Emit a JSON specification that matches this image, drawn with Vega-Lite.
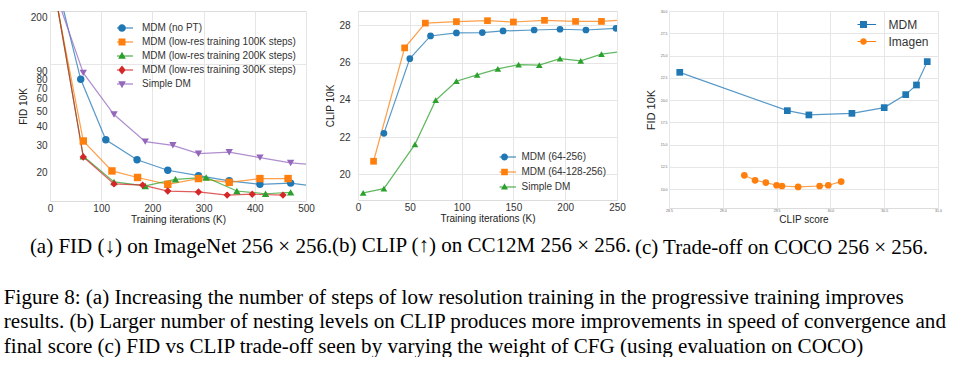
{
  "$schema": "https://vega.github.io/schema/vega-lite/v6.json",
  "padding": {"left": 3, "top": 8, "right": 0, "bottom": 0},
  "background": "white",
  "bounds": "flush",
  "spacing": 52,
  "resolve": {"scale": {"color": "independent", "shape": "independent"}, "legend": {"color": "independent", "shape": "independent"}},
  "config": {
    "font": "Liberation Sans",
    "view": {"stroke": "#dcdcdc", "strokeWidth": 1},
    "axis": {"ticks": false, "domain": false, "gridColor": "#e6e6e6", "gridWidth": 1, "labelColor": "#333333", "titleColor": "#222222", "labelFontSize": 10, "titleFontSize": 10, "titleFontWeight": "normal", "labelFont": "Liberation Sans", "titleFont": "Liberation Sans", "labelFlush": false, "labelOverlap": false},
    "legend": {"labelFont": "Liberation Sans", "labelColor": "#333333", "padding": 0, "symbolOpacity": 1, "symbolStrokeWidth": 0}
  },
  "title": {
    "text": ["Figure 8:  (a) Increasing the number of steps of low resolution training in the progressive training improves", "results. (b) Larger number of nesting levels on CLIP produces more improvements in speed of convergence and", "final score (c) FID vs CLIP trade-off seen by varying the weight of CFG (using evaluation on COCO)"],
    "orient": "bottom", "anchor": "start", "frame": "bounds", "font": "Liberation Serif", "fontSize": 21.1, "fontWeight": "normal", "lineHeight": 24.3, "color": "#000000", "offset": 29, "dx": -14
  },
  "hconcat": [
    {
      "width": 256, "height": 190,
      "title": {"text": "(a) FID (↓) on ImageNet 256 × 256.", "orient": "bottom", "anchor": "middle", "frame": "group", "font": "Liberation Serif", "fontSize": 21, "fontWeight": "normal", "color": "#000000", "offset": 12, "dx": 3},
      "data": {"values": [
        {"series": "MDM (no PT)", "iter": 5, "fid": 430}, {"series": "MDM (no PT)", "iter": 60, "fid": 80}, {"series": "MDM (no PT)", "iter": 109, "fid": 32.7}, {"series": "MDM (no PT)", "iter": 170, "fid": 24.3}, {"series": "MDM (no PT)", "iter": 230, "fid": 20.8}, {"series": "MDM (no PT)", "iter": 290, "fid": 19.2}, {"series": "MDM (no PT)", "iter": 350, "fid": 17.8}, {"series": "MDM (no PT)", "iter": 410, "fid": 16.9}, {"series": "MDM (no PT)", "iter": 470, "fid": 17.2}, {"series": "MDM (no PT)", "iter": 530, "fid": 16.2},
        {"series": "MDM (low-res training 100K steps)", "iter": 5, "fid": 338}, {"series": "MDM (low-res training 100K steps)", "iter": 65, "fid": 32.1}, {"series": "MDM (low-res training 100K steps)", "iter": 121, "fid": 20.6}, {"series": "MDM (low-res training 100K steps)", "iter": 171, "fid": 18.7}, {"series": "MDM (low-res training 100K steps)", "iter": 230, "fid": 16.9}, {"series": "MDM (low-res training 100K steps)", "iter": 290, "fid": 18.4}, {"series": "MDM (low-res training 100K steps)", "iter": 350, "fid": 17.4}, {"series": "MDM (low-res training 100K steps)", "iter": 410, "fid": 18.4}, {"series": "MDM (low-res training 100K steps)", "iter": 465, "fid": 18.4},
        {"series": "MDM (low-res training 200K steps)", "iter": 5, "fid": 359}, {"series": "MDM (low-res training 200K steps)", "iter": 65, "fid": 25.6}, {"series": "MDM (low-res training 200K steps)", "iter": 125, "fid": 17.5}, {"series": "MDM (low-res training 200K steps)", "iter": 186, "fid": 16.5}, {"series": "MDM (low-res training 200K steps)", "iter": 245, "fid": 18.2}, {"series": "MDM (low-res training 200K steps)", "iter": 305, "fid": 18.7}, {"series": "MDM (low-res training 200K steps)", "iter": 365, "fid": 15.3}, {"series": "MDM (low-res training 200K steps)", "iter": 421, "fid": 14.7}, {"series": "MDM (low-res training 200K steps)", "iter": 470, "fid": 15.0},
        {"series": "MDM (low-res training 300K steps)", "iter": 5, "fid": 359}, {"series": "MDM (low-res training 300K steps)", "iter": 65, "fid": 25.3}, {"series": "MDM (low-res training 300K steps)", "iter": 125, "fid": 17.0}, {"series": "MDM (low-res training 300K steps)", "iter": 181, "fid": 16.7}, {"series": "MDM (low-res training 300K steps)", "iter": 230, "fid": 15.3}, {"series": "MDM (low-res training 300K steps)", "iter": 290, "fid": 15.1}, {"series": "MDM (low-res training 300K steps)", "iter": 346, "fid": 14.4}, {"series": "MDM (low-res training 300K steps)", "iter": 395, "fid": 14.6}, {"series": "MDM (low-res training 300K steps)", "iter": 455, "fid": 14.4},
        {"series": "Simple DM", "iter": 5, "fid": 325}, {"series": "Simple DM", "iter": 65, "fid": 88}, {"series": "Simple DM", "iter": 125, "fid": 47.5}, {"series": "Simple DM", "iter": 186, "fid": 31.8}, {"series": "Simple DM", "iter": 240, "fid": 30.1}, {"series": "Simple DM", "iter": 290, "fid": 26.6}, {"series": "Simple DM", "iter": 350, "fid": 27.2}, {"series": "Simple DM", "iter": 410, "fid": 25.1}, {"series": "Simple DM", "iter": 470, "fid": 23.2}, {"series": "Simple DM", "iter": 530, "fid": 22.4}
      ]},
      "encoding": {
        "x": {"field": "iter", "type": "quantitative", "scale": {"domain": [0, 500], "nice": false, "zero": false}, "axis": {"values": [0, 100, 200, 300, 400, 500], "title": "Training iterations (K)", "labelPadding": 2, "titlePadding": 1}},
        "y": {"field": "fid", "type": "quantitative", "scale": {"type": "log", "domain": [13.2, 220], "nice": false}, "axis": {"values": [20, 30, 40, 50, 60, 70, 80, 90, 100, 200], "labelExpr": "datum.value == 100 ? '' : datum.label", "gridOpacity": {"condition": {"test": "datum.value == 100", "value": 1}, "value": 0}, "title": "FID 10K", "labelPadding": 3, "titlePadding": 2}}
      },
      "layer": [
        {"mark": {"type": "line", "clip": true, "strokeWidth": 1.2, "opacity": 0.75},
         "encoding": {"color": {"field": "series", "type": "nominal", "scale": {"domain": ["MDM (no PT)", "MDM (low-res training 100K steps)", "MDM (low-res training 200K steps)", "MDM (low-res training 300K steps)", "Simple DM"], "range": ["#1f77b4", "#ff7f0e", "#2ca02c", "#d62728", "#9467bd"]}, "legend": null}}},
        {"mark": {"type": "point", "filled": true, "clip": true, "size": 55, "opacity": 1},
         "encoding": {"color": {"field": "series", "type": "nominal", "scale": {"domain": ["MDM (no PT)", "MDM (low-res training 100K steps)", "MDM (low-res training 200K steps)", "MDM (low-res training 300K steps)", "Simple DM"], "range": ["#1f77b4", "#ff7f0e", "#2ca02c", "#d62728", "#9467bd"]}, "legend": null},
           "shape": {"field": "series", "type": "nominal", "scale": {"domain": ["MDM (no PT)", "MDM (low-res training 100K steps)", "MDM (low-res training 200K steps)", "MDM (low-res training 300K steps)", "Simple DM"], "range": ["circle", "square", "triangle-up", "diamond", "triangle-down"]}, "legend": null}}},
        {"transform": [{"filter": "false"}],
         "mark": {"type": "point", "filled": true, "opacity": 1},
         "encoding": {"color": {"field": "series", "type": "nominal", "scale": {"domain": ["MDM (no PT)", "MDM (low-res training 100K steps)", "MDM (low-res training 200K steps)", "MDM (low-res training 300K steps)", "Simple DM"], "range": ["#1f77b4", "#ff7f0e", "#2ca02c", "#d62728", "#9467bd"]},
             "legend": {"title": null, "orient": "none", "legendX": 67, "legendY": 10, "symbolSize": 60, "labelFontSize": 10, "labelOffset": 15, "rowPadding": 0, "clipHeight": 14, "symbolOpacity": 1}},
           "shape": {"field": "series", "type": "nominal", "scale": {"domain": ["MDM (no PT)", "MDM (low-res training 100K steps)", "MDM (low-res training 200K steps)", "MDM (low-res training 300K steps)", "Simple DM"],
             "range": ["M-2.85,-0.15H2.85V0.15H-2.85ZM-1,0A1,1 0 1,1 1,0A1,1 0 1,1 -1,0Z", "M-2.85,-0.15H2.85V0.15H-2.85ZM-0.9,-0.9H0.9V0.9H-0.9Z", "M-2.85,-0.15H2.85V0.15H-2.85ZM0,-1.1L1,0.7H-1Z", "M-2.85,-0.15H2.85V0.15H-2.85ZM0,-1.15L0.95,0L0,1.15L-0.95,0Z", "M-2.85,-0.15H2.85V0.15H-2.85ZM0,1.1L-1,-0.7H1Z"]},
             "legend": {"title": null, "orient": "none", "legendX": 67, "legendY": 10, "symbolSize": 60, "labelFontSize": 10, "labelOffset": 15, "rowPadding": 0, "clipHeight": 14, "symbolOpacity": 1}}}}
      ],
      "resolve": {"scale": {"color": "independent", "shape": "independent"}}
    },
    {
      "width": 259, "height": 189,
      "title": {"text": "(b) CLIP (↑) on CC12M 256 × 256.", "orient": "bottom", "anchor": "middle", "frame": "group", "font": "Liberation Serif", "fontSize": 21, "fontWeight": "normal", "color": "#000000", "offset": 12, "dx": -6},
      "data": {"values": [
        {"series": "MDM (64-256)", "iter": 25, "clip": 22.2}, {"series": "MDM (64-256)", "iter": 50, "clip": 26.21}, {"series": "MDM (64-256)", "iter": 70, "clip": 27.43}, {"series": "MDM (64-256)", "iter": 95, "clip": 27.59}, {"series": "MDM (64-256)", "iter": 120, "clip": 27.61}, {"series": "MDM (64-256)", "iter": 140, "clip": 27.7}, {"series": "MDM (64-256)", "iter": 170, "clip": 27.75}, {"series": "MDM (64-256)", "iter": 195, "clip": 27.79}, {"series": "MDM (64-256)", "iter": 220, "clip": 27.75}, {"series": "MDM (64-256)", "iter": 249, "clip": 27.84},
        {"series": "MDM (64-128-256)", "iter": 15, "clip": 20.7}, {"series": "MDM (64-128-256)", "iter": 45, "clip": 26.79}, {"series": "MDM (64-128-256)", "iter": 65, "clip": 28.12}, {"series": "MDM (64-128-256)", "iter": 95, "clip": 28.2}, {"series": "MDM (64-128-256)", "iter": 125, "clip": 28.25}, {"series": "MDM (64-128-256)", "iter": 150, "clip": 28.18}, {"series": "MDM (64-128-256)", "iter": 180, "clip": 28.27}, {"series": "MDM (64-128-256)", "iter": 210, "clip": 28.21}, {"series": "MDM (64-128-256)", "iter": 235, "clip": 28.21}, {"series": "MDM (64-128-256)", "iter": 265, "clip": 28.33},
        {"series": "Simple DM", "iter": 5, "clip": 19.0}, {"series": "Simple DM", "iter": 25, "clip": 19.23}, {"series": "Simple DM", "iter": 55, "clip": 21.61}, {"series": "Simple DM", "iter": 75, "clip": 23.98}, {"series": "Simple DM", "iter": 95, "clip": 25.0}, {"series": "Simple DM", "iter": 115, "clip": 25.34}, {"series": "Simple DM", "iter": 135, "clip": 25.66}, {"series": "Simple DM", "iter": 155, "clip": 25.89}, {"series": "Simple DM", "iter": 175, "clip": 25.86}, {"series": "Simple DM", "iter": 195, "clip": 26.21}, {"series": "Simple DM", "iter": 215, "clip": 26.09}, {"series": "Simple DM", "iter": 235, "clip": 26.45}, {"series": "Simple DM", "iter": 255, "clip": 26.6}
      ]},
      "encoding": {
        "x": {"field": "iter", "type": "quantitative", "scale": {"domain": [0, 250], "nice": false, "zero": false}, "axis": {"values": [0, 50, 100, 150, 200, 250], "title": "Training iterations (K)", "labelPadding": 2, "titlePadding": 1}},
        "y": {"field": "clip", "type": "quantitative", "scale": {"domain": [18.62, 28.77], "nice": false, "zero": false}, "axis": {"values": [20, 22, 24, 26, 28], "title": "CLIP 10K", "labelPadding": 8, "titlePadding": 3}}
      },
      "layer": [
        {"mark": {"type": "line", "clip": true, "strokeWidth": 1.2, "opacity": 0.75},
         "encoding": {"color": {"field": "series", "type": "nominal", "scale": {"domain": ["MDM (64-256)", "MDM (64-128-256)", "Simple DM"], "range": ["#1f77b4", "#ff7f0e", "#2ca02c"]}, "legend": null}}},
        {"mark": {"type": "point", "filled": true, "clip": true, "size": 45, "opacity": 1},
         "encoding": {"color": {"field": "series", "type": "nominal", "scale": {"domain": ["MDM (64-256)", "MDM (64-128-256)", "Simple DM"], "range": ["#1f77b4", "#ff7f0e", "#2ca02c"]}, "legend": null},
           "shape": {"field": "series", "type": "nominal", "scale": {"domain": ["MDM (64-256)", "MDM (64-128-256)", "Simple DM"], "range": ["circle", "square", "triangle-up"]}, "legend": null}}},
        {"transform": [{"filter": "false"}],
         "mark": {"type": "point", "filled": true, "opacity": 1},
         "encoding": {"color": {"field": "series", "type": "nominal", "scale": {"domain": ["MDM (64-256)", "MDM (64-128-256)", "Simple DM"], "range": ["#1f77b4", "#ff7f0e", "#2ca02c"]},
             "legend": {"title": null, "orient": "none", "legendX": 141.5, "legendY": 138.5, "symbolSize": 49, "labelFontSize": 10, "labelOffset": 12, "rowPadding": 0, "clipHeight": 15, "symbolOpacity": 1}},
           "shape": {"field": "series", "type": "nominal", "scale": {"domain": ["MDM (64-256)", "MDM (64-128-256)", "Simple DM"],
             "range": ["M-3.3,-0.17H3.3V0.17H-3.3ZM-1,0A1,1 0 1,1 1,0A1,1 0 1,1 -1,0Z", "M-3.3,-0.17H3.3V0.17H-3.3ZM-0.95,-0.95H0.95V0.95H-0.95Z", "M-3.3,-0.17H3.3V0.17H-3.3ZM0,-1.1L1,0.7H-1Z"]},
             "legend": {"title": null, "orient": "none", "legendX": 141.5, "legendY": 138.5, "symbolSize": 49, "labelFontSize": 10, "labelOffset": 12, "rowPadding": 0, "clipHeight": 15, "symbolOpacity": 1}}}}
      ],
      "resolve": {"scale": {"color": "independent", "shape": "independent"}}
    },
    {
      "width": 269, "height": 197,
      "title": {"text": "(c) Trade-off on COCO 256 × 256.", "orient": "bottom", "anchor": "middle", "frame": "group", "font": "Liberation Serif", "fontSize": 21, "fontWeight": "normal", "color": "#000000", "offset": 12, "dx": -22},
      "data": {"values": [
        {"series": "MDM", "clipscore": 28.6, "fid": 23.12}, {"series": "MDM", "clipscore": 29.6, "fid": 18.82}, {"series": "MDM", "clipscore": 29.8, "fid": 18.34}, {"series": "MDM", "clipscore": 30.2, "fid": 18.52}, {"series": "MDM", "clipscore": 30.5, "fid": 19.16}, {"series": "MDM", "clipscore": 30.7, "fid": 20.62}, {"series": "MDM", "clipscore": 30.8, "fid": 21.7}, {"series": "MDM", "clipscore": 30.9, "fid": 24.32},
        {"series": "Imagen", "clipscore": 29.2, "fid": 11.57}, {"series": "Imagen", "clipscore": 29.3, "fid": 11.01}, {"series": "Imagen", "clipscore": 29.4, "fid": 10.75}, {"series": "Imagen", "clipscore": 29.5, "fid": 10.45}, {"series": "Imagen", "clipscore": 29.55, "fid": 10.37}, {"series": "Imagen", "clipscore": 29.7, "fid": 10.26}, {"series": "Imagen", "clipscore": 29.9, "fid": 10.37}, {"series": "Imagen", "clipscore": 29.98, "fid": 10.45}, {"series": "Imagen", "clipscore": 30.1, "fid": 10.86}
      ]},
      "encoding": {
        "x": {"field": "clipscore", "type": "quantitative", "scale": {"domain": [28.5, 31.0], "nice": false, "zero": false}, "axis": {"values": [28.5, 29.0, 29.5, 30.0, 30.5, 31.0], "format": ".1f", "title": "CLIP score", "labelFontSize": 3.5, "labelColor": "#666666", "labelPadding": 0, "titlePadding": 3}},
        "y": {"field": "fid", "type": "quantitative", "scale": {"domain": [7.9, 30], "nice": false, "zero": false}, "axis": {"values": [10, 12.5, 15, 17.5, 20, 22.5, 25, 27.5, 30], "format": ".1f", "title": "FID 10K", "titleFontSize": 11, "labelFontSize": 3.5, "labelColor": "#666666", "labelPadding": 2, "titlePadding": 4}}
      },
      "layer": [
        {"mark": {"type": "line", "clip": true, "strokeWidth": 1.2, "opacity": 0.75},
         "encoding": {"color": {"field": "series", "type": "nominal", "scale": {"domain": ["MDM", "Imagen"], "range": ["#1f77b4", "#ff7f0e"]}, "legend": null}}},
        {"mark": {"type": "point", "filled": true, "clip": true, "size": 45, "opacity": 1},
         "encoding": {"color": {"field": "series", "type": "nominal", "scale": {"domain": ["MDM", "Imagen"], "range": ["#1f77b4", "#ff7f0e"]}, "legend": null},
           "shape": {"field": "series", "type": "nominal", "scale": {"domain": ["MDM", "Imagen"], "range": ["square", "circle"]}, "legend": null}}},
        {"transform": [{"filter": "false"}],
         "mark": {"type": "point", "filled": true, "opacity": 1},
         "encoding": {"color": {"field": "series", "type": "nominal", "scale": {"domain": ["MDM", "Imagen"], "range": ["#1f77b4", "#ff7f0e"]},
             "legend": {"title": null, "orient": "none", "legendX": 188.5, "legendY": 7, "symbolSize": 49, "labelFontSize": 12, "labelOffset": 19, "rowPadding": 4, "clipHeight": 13, "symbolOpacity": 1}},
           "shape": {"field": "series", "type": "nominal", "scale": {"domain": ["MDM", "Imagen"],
             "range": ["M-3.6,-0.17H3.6V0.17H-3.6ZM-1,-1H1V1H-1Z", "M-3.6,-0.17H3.6V0.17H-3.6ZM-0.95,0A0.95,0.95 0 1,1 0.95,0A0.95,0.95 0 1,1 -0.95,0Z"]},
             "legend": {"title": null, "orient": "none", "legendX": 188.5, "legendY": 7, "symbolSize": 49, "labelFontSize": 12, "labelOffset": 19, "rowPadding": 4, "clipHeight": 13, "symbolOpacity": 1}}}}
      ],
      "resolve": {"scale": {"color": "independent", "shape": "independent"}}
    }
  ]
}
